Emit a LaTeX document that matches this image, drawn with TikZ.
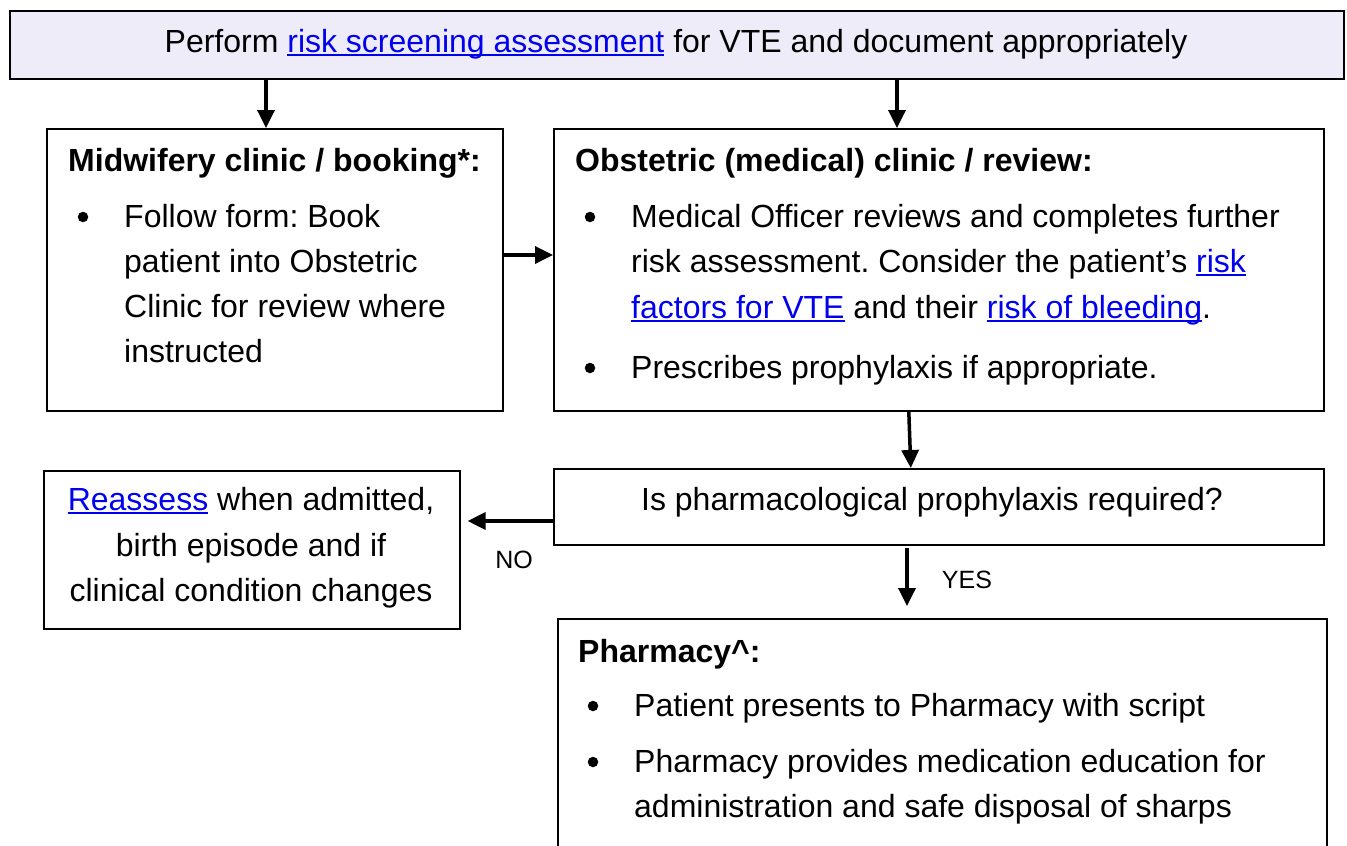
\documentclass[tikz,border=0pt]{standalone}
\usepackage{fontspec}
\setmainfont{Liberation Sans}
\usetikzlibrary{arrows.meta}
\definecolor{linkblue}{RGB}{0,0,238}
\definecolor{lavender}{RGB}{238,236,248}
\newcommand\lnk[1]{{\color{linkblue}\setbox0\hbox{#1}\rlap{\rule[-4pt]{\wd0}{2pt}}\box0}}
\frenchspacing
\begin{document}
\begin{tikzpicture}[x=1pt,y=-1pt,
  box/.style={draw=black,line width=1.6pt,rectangle,inner sep=0pt,anchor=north west},
  txt/.style={inner sep=0pt,font=\fontsize{32}{38}\selectfont\frenchspacing},
  head/.style={txt,anchor=base west,font=\fontsize{32}{38}\selectfont\bfseries},
  bul/.style={circle,fill=black,inner sep=0pt,minimum size=10.5pt},
  small/.style={inner sep=0pt,font=\fontsize{25}{30}\selectfont},
  arr/.style={line width=3.5pt,-{Triangle[length=18pt,width=17pt]}}]
\clip (0,0) rectangle (1347,846);
\fill[white] (0,0) rectangle (1347,846);
% boxes
\node[box,fill=lavender,minimum width=1334pt,minimum height=68pt] (top) at (9,10) {};
\node[box,minimum width=456pt,minimum height=282pt] (mid) at (46,128) {};
\node[box,minimum width=770pt,minimum height=282pt] (obs) at (553,128) {};
\node[box,minimum width=770pt,minimum height=76pt] (dec) at (553,468) {};
\node[box,minimum width=416pt,minimum height=158pt] (reas) at (43,470) {};
\node[box,minimum width=769pt,minimum height=260pt] (pharm) at (557,618) {};
% texts
\node[txt,anchor=base] (t0) at (676,52) {Perform \lnk{risk screening assessment} for VTE and document appropriately};
\node[head] (m0) at (68,171) {Midwifery clinic / booking*:};
\node[bul] (mb1) at (83,217) {};
\node[txt,anchor=base west] (m1) at (124,227) {Follow form: Book};
\node[txt,anchor=base west] (m2) at (124,272) {patient into Obstetric};
\node[txt,anchor=base west] (m3) at (124,317) {Clinic for review where};
\node[txt,anchor=base west] (m4) at (124,362) {instructed};
\node[head] (o0) at (575,171) {Obstetric (medical) clinic / review:};
\node[bul] (ob1) at (590,217) {};
\node[txt,anchor=base west] (o1) at (631,227) {Medical Officer reviews and completes further};
\node[txt,anchor=base west] (o2) at (631,272) {risk assessment. Consider the patient’s \lnk{risk}};
\node[txt,anchor=base west] (o3) at (631,318) {\lnk{factors for VTE} and their \lnk{risk of bleeding}.};
\node[bul] (ob2) at (590,368) {};
\node[txt,anchor=base west] (o4) at (631,378) {Prescribes prophylaxis if appropriate.};
\node[txt,anchor=base] (d0) at (932,510) {Is pharmacological prophylaxis required?};
\node[txt,anchor=base] (r1) at (251,510) {\lnk{Reassess} when admitted,};
\node[txt,anchor=base] (r2) at (251,556) {birth episode and if};
\node[txt,anchor=base] (r3) at (251,601) {clinical condition changes};
\node[head] (p0) at (578,662) {Pharmacy\textasciicircum:};
\node[bul] (pb1) at (593,706) {};
\node[txt,anchor=base west] (p1) at (634,716) {Patient presents to Pharmacy with script};
\node[bul] (pb2) at (593,762) {};
\node[txt,anchor=base west] (p2) at (634,772) {Pharmacy provides medication education for};
\node[txt,anchor=base west] (p3) at (634,817) {administration and safe disposal of sharps};
\node[small,anchor=base] (no) at (514,568) {NO};
\node[small,anchor=base] (yes) at (967,588) {YES};
% connectors
\coordinate (xa) at (266,0);
\coordinate (xb) at (897,0);
\coordinate (ya) at (0,255);
\coordinate (yb) at (0,521);
\coordinate (xc) at (907,0);
\draw[arr] (top.south -| xa) -- (mid.north -| xa);
\draw[arr] (top.south -| xb) -- (obs.north -| xb);
\draw[arr] (mid.east |- ya) -- (obs.west |- ya);
\draw[arr] ([xshift=-30pt]obs.south) -- ([xshift=-28pt]dec.north);
\draw[arr,shorten >=7pt] (dec.west |- yb) -- (reas.east |- yb);
\draw[arr,shorten <=2pt,shorten >=12pt] (dec.south -| xc) -- (pharm.north -| xc);
\end{tikzpicture}
\end{document}
